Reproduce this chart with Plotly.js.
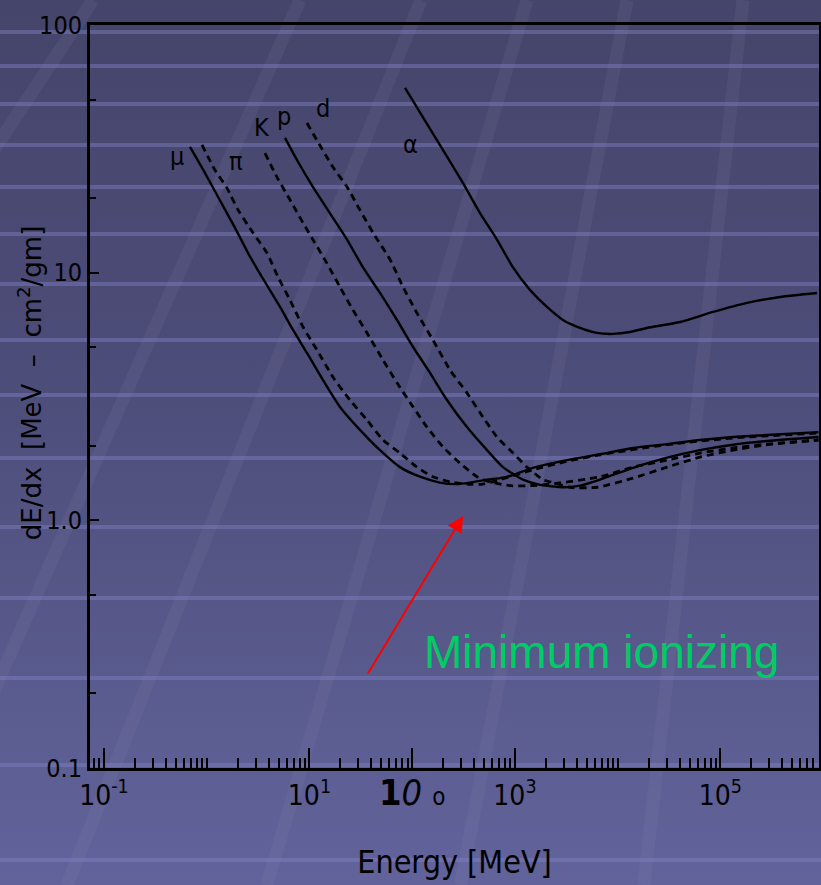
<!DOCTYPE html>
<html><head><meta charset="utf-8">
<script src="https://cdn.plot.ly/plotly-3.0.1.min.js"></script>
<style>
html,body{margin:0;padding:0;background:#4f5080;}
#wrap{position:relative;width:821px;height:885px;overflow:hidden;background:linear-gradient(to bottom,#45456b 0%,#4c4c78 40%,#575889 70%,#62639b 100%);}
#bg{position:absolute;left:0;top:0;}
#chart{position:absolute;left:0;top:0;width:821px;height:885px;}
</style></head><body>
<div id="wrap"><svg id="bg" width="821" height="885"></svg><div id="chart"></div></div>
<script>
// ---- data (kinetic energy in MeV, dE/dx in MeV cm^2/g) ----
const particleNames = ['μ','π','K','p','d','α'];

const muE    = [0.687,0.96,1.29,1.88,2.64,3.69,5.17,6.92,9.46,13.5,19.8,31.0,48.6,76.0,119,186,273,365,535,715,895,1497,3206,6730,14090,30200,63240,132400,283800,900000];
const muDEDX = [32.2,25.3,20.2,15.2,11.6,9.17,7.27,5.87,4.74,3.69,2.87,2.32,1.92,1.64,1.50,1.42,1.40,1.42,1.46,1.48,1.51,1.63,1.75,1.85,1.96,2.03,2.11,2.17,2.21,2.27];

const piE    = [0.90,1.20,1.57,2.02,2.82,3.86,4.94,6.46,8.65,11.8,16.9,24.8,36.3,52.0,76.0,111,159,233,341,489,715,1497,3206,6730,30200,132400,900000];
const piDEDX = [32.8,26.0,22.0,17.9,14.5,12.0,9.61,7.76,6.04,4.88,3.79,3.06,2.54,2.11,1.87,1.64,1.50,1.43,1.40,1.40,1.46,1.60,1.73,1.84,2.02,2.15,2.25];

const kE     = [3.69,4.83,6.46,8.65,10.8,14.8,19.8,26.5,36.3,52.0,71.1,102,139,199,292,427,571,895,1400,2193,6730,14090,30200,63240,132400,283800,900000];
const kDEDX  = [30.4,24.3,19.7,15.9,13.6,10.9,8.76,7.07,5.71,4.44,3.59,2.87,2.38,1.98,1.70,1.50,1.43,1.38,1.38,1.40,1.50,1.64,1.75,1.87,1.96,2.03,2.11];

const pE     = [5.78,7.56,10.8,15.8,23.2,33.2,48.6,71.1,102,149,218,341,535,764,1197,1754,2932,4295,6730,14090,30200,63240,132400,283800,900000];
const pDEDX  = [35.0,28.5,22.2,17.4,13.6,10.5,8.28,6.44,5.01,3.94,3.06,2.38,1.92,1.64,1.46,1.39,1.36,1.38,1.46,1.63,1.79,1.92,2.02,2.09,2.17];

const dE     = [9.46,11.8,16.9,23.2,31.0,41.5,60.8,81.3,111,159,233,341,489,668,957,1309,1875,2344,3436,6281,14090,30200,63240,132400,283800,900000];
const dDEDX  = [40.2,34.3,26.7,22.2,17.9,14.5,11.3,8.76,6.88,5.35,4.05,3.27,2.61,2.17,1.87,1.64,1.46,1.42,1.36,1.36,1.48,1.64,1.80,1.92,2.02,2.11];

const alphaE    = [85.1,127,199,312,457,668,957,1400,2051,2932,4295,6281,8995,13150,19280,40360,84550,181100,379300,868900];
const alphaDEDX = [55.7,42.5,31.3,23.0,17.4,13.6,10.5,8.52,7.27,6.44,5.98,5.71,5.66,5.76,5.98,6.32,6.94,7.55,7.98,8.28];

const xTickVals = [0.1, 10, 100, 1000, 100000];
const xTickText = ['10<sup>-1</sup>','10<sup>1</sup>','<span style="font-size:36px"><b>1</b><i>0</i> <span style="font-size:24px">o</span></span>','10<sup>3</sup>','10<sup>5</sup>'];
const yTickVals = [0.1, 1, 10, 100];
const yTickText = ['0.1','1.0','10','100'];
const xTitle = 'Energy [MeV]';
const yTitle = 'dE/dx  [MeV  –  cm<sup>2</sup>/gm]';
const noteText = 'Minimum ionizing';

// ---- decorative background (template look) ----
(function(){
  const svg = document.getElementById('bg');
  const ns = 'http://www.w3.org/2000/svg';
  const bands = [[93,-0.66],[300,-0.443],[421,-0.40],[527,-0.294],[627,-0.188],[743,-0.112],[880,-0.06]];
  bands.forEach(b=>{
    const l = document.createElementNS(ns,'line');
    l.setAttribute('x1',b[0]); l.setAttribute('y1',0);
    l.setAttribute('x2',b[0]+b[1]*885); l.setAttribute('y2',885);
    l.setAttribute('stroke','rgba(150,150,180,0.11)'); l.setAttribute('stroke-width',13);
    svg.appendChild(l);
  });
  const stripes = [32,66,104,145,187,234,284,340,395,458,527,598,678,765,860];
  stripes.forEach(y=>{
    const r = document.createElementNS(ns,'rect');
    r.setAttribute('x',0); r.setAttribute('y',y-2); r.setAttribute('width',821); r.setAttribute('height',4);
    r.setAttribute('fill','rgba(130,130,200,0.42)');
    svg.appendChild(r);
  });
})();

const narrow = '"Liberation Sans Narrow","DejaVu Sans Condensed",sans-serif';
const solid = {color:'black', width:2.4, shape:'spline', smoothing:0.6};
const dashed = {color:'black', width:2.8, dash:'7px,5px', shape:'spline', smoothing:0.6};

const series = [
  {x:muE, y:muDEDX, line:solid},
  {x:piE, y:piDEDX, line:dashed},
  {x:kE, y:kDEDX, line:dashed},
  {x:pE, y:pDEDX, line:solid},
  {x:dE, y:dDEDX, line:dashed},
  {x:alphaE, y:alphaDEDX, line:solid}
];
const traces = series.map((s,i)=>({x:s.x, y:s.y, mode:'lines', type:'scatter', name:particleNames[i], line:s.line, hoverinfo:'x+y+name'}));

const labelShift = [[-13,-10],[34,-17],[-3,26],[-1,21],[16,15],[5,-57]];
const annotations = series.map((s,i)=>({
  x: Math.log10(s.x[0]), y: Math.log10(s.y[0]), xref:'x', yref:'y',
  text: particleNames[i], showarrow:false,
  xshift: labelShift[i][0], yshift: labelShift[i][1],
  font:{family:'"DejaVu Sans Condensed",sans-serif', size:25, color:'black'}
}));
annotations.push({
  x:0.5117, y:0.3392, xref:'paper', yref:'paper', ax:-96, ay:159,
  text:'', showarrow:true, arrowhead:2, arrowsize:1.6, arrowwidth:2, arrowcolor:'#ff0000'
});
annotations.push({
  x:0.7023, y:0.156, xref:'paper', yref:'paper', text:noteText, showarrow:false,
  xanchor:'center', yanchor:'middle',
  font:{family:'"Liberation Sans",Arial,sans-serif', size:46, color:'#00cc66'}
});
annotations.push({
  x:-0.0823, y:0.518, xref:'paper', yref:'paper', text:yTitle, showarrow:false,
  textangle:-90, xanchor:'center', yanchor:'middle',
  font:{family:'"DejaVu Sans",sans-serif', size:26, color:'black'}
});

const layout = {
  width:821, height:885,
  margin:{l:90, r:2, t:25, b:117},
  paper_bgcolor:'rgba(0,0,0,0)', plot_bgcolor:'rgba(0,0,0,0)',
  showlegend:false,
  xaxis:{
    type:'log', range:[-1.136, 5.959],
    tickmode:'array', tickvals:xTickVals, ticktext:xTickText,
    ticks:'inside', ticklen:20, tickwidth:2, tickcolor:'black',
    minor:{ticks:'inside', ticklen:10, tickwidth:2, tickcolor:'black', dtick:'D1', showgrid:false},
    showline:true, mirror:true, linecolor:'black', linewidth:3,
    showgrid:false, zeroline:false,
    tickfont:{family:narrow, size:28, color:'black'},
    title:{text:xTitle, font:{family:narrow, size:32, color:'black'}, standoff:40}
  },
  yaxis:{
    type:'log', range:[-1, 2],
    tickmode:'array', tickvals:yTickVals, ticktext:yTickText,
    ticks:'inside', ticklen:9, tickwidth:2, tickcolor:'black',
    minor:{ticks:'inside', ticklen:6, tickwidth:2, tickcolor:'black', dtick:'D2', showgrid:false},
    showline:true, mirror:true, linecolor:'black', linewidth:3,
    showgrid:false, zeroline:false,
    tickfont:{family:narrow, size:25, color:'black'}
  },
  annotations:annotations
};

Plotly.newPlot('chart', traces, layout, {displayModeBar:false, staticPlot:true});
</script>
</body></html>
